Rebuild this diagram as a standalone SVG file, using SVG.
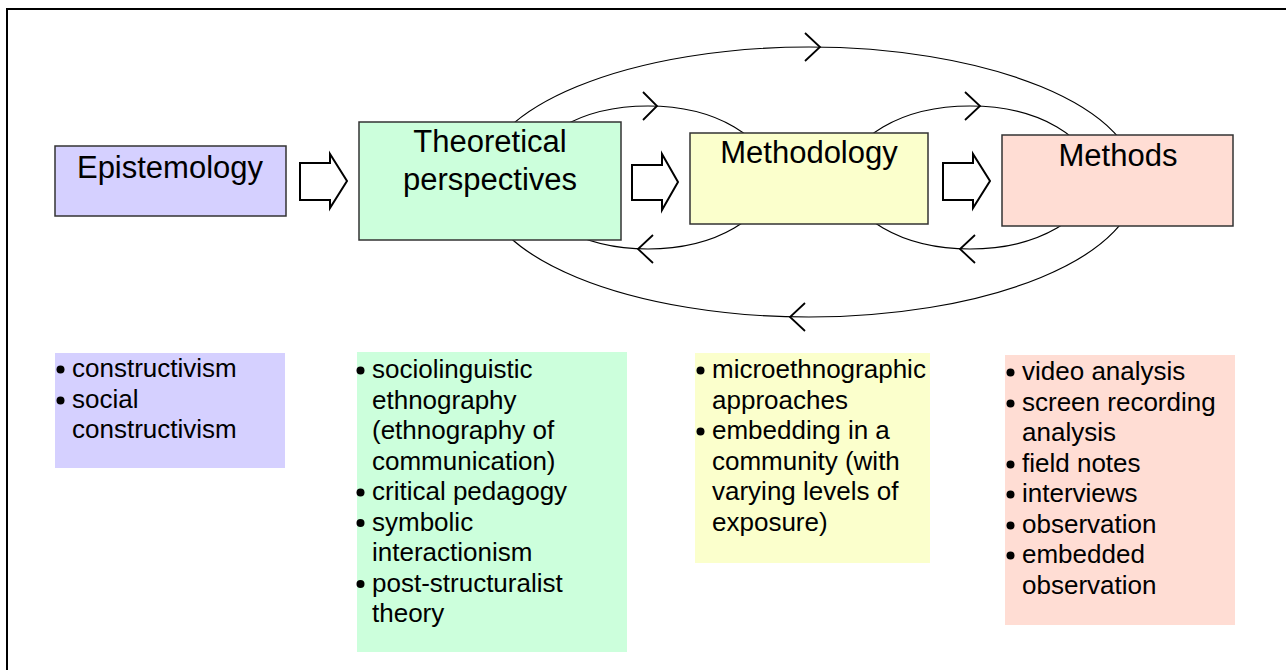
<svg xmlns="http://www.w3.org/2000/svg" width="1286" height="670" viewBox="0 0 1286 670">
<style>
.frame{fill:none;stroke:#000;stroke-width:2}
.box{stroke:#333;stroke-width:1.5}
.h{font-family:"Liberation Sans",Arial,sans-serif;font-size:31px;fill:#000;text-anchor:middle}
.b{font-family:"Liberation Sans",Arial,sans-serif;font-size:26px;fill:#000}
.dot{fill:#000}
.loop{fill:none;stroke:#000;stroke-width:1.2}
.chev{fill:none;stroke:#000;stroke-width:1.8}
.blk{fill:#fff;stroke:#000;stroke-width:2;stroke-linejoin:miter}
.lav{fill:#d5d0ff}.grn{fill:#ccffdc}.yel{fill:#fbffcc}.pnk{fill:#ffddd4}
</style>
<defs><circle id="bu" r="4" class="dot"/></defs>
<rect width="1286" height="670" fill="#fff"/>
<rect class="frame" x="7" y="9" width="1300" height="680"/>
<g id="connectors">
<ellipse class="loop" cx="809" cy="182" rx="328" ry="135"/>
<ellipse class="loop" cx="648" cy="177.5" rx="122" ry="71.5"/>
<ellipse class="loop" cx="970" cy="177.5" rx="123" ry="71.5"/>
<polyline class="chev" points="805,33 820,47 805,61"/>
<polyline class="chev" points="643,92 657,106 643,120"/>
<polyline class="chev" points="965,92 980,106 965,120"/>
<polyline class="chev" points="653,235 638,249 653,263"/>
<polyline class="chev" points="975,235 960,249 975,263"/>
<polyline class="chev" points="805,303 790,317 805,331"/>
<path class="blk" d="M300,163 H330 V154 L347,181 L330,208 V200 H300 Z"/>
<path class="blk" d="M632,165 H662 V154 L678,182 L662,210 V200 H632 Z"/>
<path class="blk" d="M943,163 H973 V154 L990,181 L973,208 V200 H943 Z"/>
</g>
<g id="epistemology">
<rect class="box lav" x="55" y="146" width="231" height="70"/>
<text class="h" x="170" y="178">Epistemology</text>
</g>
<g id="theoretical">
<rect class="box grn" x="359" y="122" width="262" height="118"/>
<text class="h" x="490" y="152">Theoretical</text>
<text class="h" x="490" y="190">perspectives</text>
</g>
<g id="methodology">
<rect class="box yel" x="690" y="133" width="238" height="91"/>
<text class="h" x="809" y="163">Methodology</text>
</g>
<g id="methods">
<rect class="box pnk" x="1002" y="135" width="231" height="91"/>
<text class="h" x="1118" y="166">Methods</text>
</g>
<g id="epistemology-list">
<rect class="lav" x="55" y="353" width="230" height="115"/>
<use href="#bu" x="60.5" y="369.5"/>
<use href="#bu" x="60.5" y="400.5"/>
<text class="b" x="72" y="377">constructivism</text>
<text class="b" x="72" y="408">social</text>
<text class="b" x="72" y="438">constructivism</text>
</g>
<g id="theoretical-list">
<rect class="grn" x="357" y="352" width="270" height="300"/>
<use href="#bu" x="360.5" y="370.5"/>
<use href="#bu" x="360.5" y="492.5"/>
<use href="#bu" x="360.5" y="523"/>
<use href="#bu" x="360.5" y="584"/>
<text class="b" x="372" y="378">sociolinguistic</text>
<text class="b" x="372" y="408.5">ethnography</text>
<text class="b" x="372" y="439">(ethnography of</text>
<text class="b" x="372" y="469.5">communication)</text>
<text class="b" x="372" y="500">critical pedagogy</text>
<text class="b" x="372" y="530.5">symbolic</text>
<text class="b" x="372" y="561">interactionism</text>
<text class="b" x="372" y="591.5">post-structuralist</text>
<text class="b" x="372" y="622">theory</text>
</g>
<g id="methodology-list">
<rect class="yel" x="695" y="353" width="235" height="210"/>
<use href="#bu" x="700.5" y="370.5"/>
<use href="#bu" x="700.5" y="431.5"/>
<text class="b" x="712" y="378">microethnographic</text>
<text class="b" x="712" y="408.5">approaches</text>
<text class="b" x="712" y="439">embedding in a</text>
<text class="b" x="712" y="469.5">community (with</text>
<text class="b" x="712" y="500">varying levels of</text>
<text class="b" x="712" y="530.5">exposure)</text>
</g>
<g id="methods-list">
<rect class="pnk" x="1005" y="355" width="230" height="270"/>
<use href="#bu" x="1010.5" y="372.5"/>
<use href="#bu" x="1010.5" y="403.5"/>
<use href="#bu" x="1010.5" y="464.5"/>
<use href="#bu" x="1010.5" y="494.5"/>
<use href="#bu" x="1010.5" y="525.5"/>
<use href="#bu" x="1010.5" y="555.5"/>
<text class="b" x="1022" y="380">video analysis</text>
<text class="b" x="1022" y="411">screen recording</text>
<text class="b" x="1022" y="441">analysis</text>
<text class="b" x="1022" y="472">field notes</text>
<text class="b" x="1022" y="502">interviews</text>
<text class="b" x="1022" y="533">observation</text>
<text class="b" x="1022" y="563">embedded</text>
<text class="b" x="1022" y="594">observation</text>
</g>
</svg>
